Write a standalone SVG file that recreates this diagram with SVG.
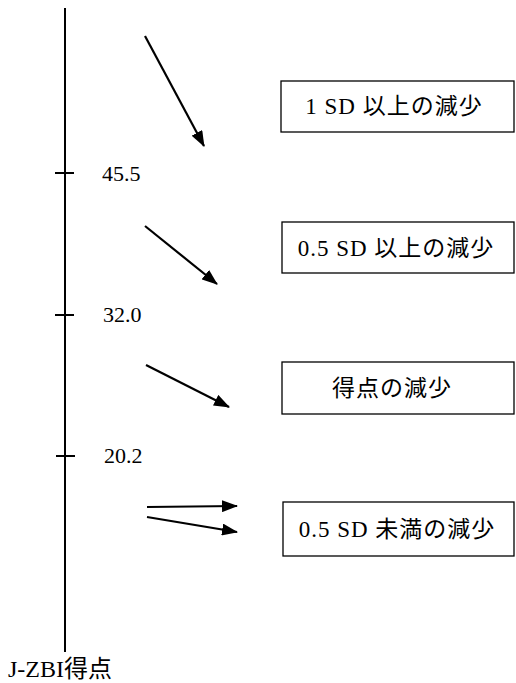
<svg xmlns="http://www.w3.org/2000/svg" width="516" height="683" viewBox="0 0 516 683">
<style>
.ax{stroke:#000;stroke-width:2;fill:none}
.con{stroke:#000;stroke-width:2.2;fill:none}
.box{fill:#fff;stroke:#000;stroke-width:1.3}
.t{font-family:'Liberation Serif','Times New Roman','DejaVu Serif','Noto Sans CJK JP',serif;font-size:23px;letter-spacing:1px;fill:#000}
.n{font-family:'Liberation Serif','Times New Roman','DejaVu Serif',serif;font-size:22px;fill:#000}
</style>
<defs>
<marker id="ahL" markerWidth="16" markerHeight="12" refX="15" refY="6" orient="auto" markerUnits="userSpaceOnUse" viewBox="0 0 16 12">
<path d="M0,0 L16,6 L0,12 Z" fill="#000"/>
</marker>
</defs>
<rect width="516" height="683" fill="#fff"/>
<g id="axis">
<line class="ax" x1="65" y1="8" x2="65" y2="652"/>
<line class="ax" x1="55" y1="173" x2="74" y2="173"/>
<line class="ax" x1="55" y1="315" x2="74" y2="315"/>
<line class="ax" x1="56" y1="456" x2="75" y2="456"/>
<text class="n" x="102" y="181">45.5</text>
<text class="n" x="103" y="322">32.0</text>
<text class="n" x="104" y="463">20.2</text>
<text class="t" x="8" y="677" style="font-size:24px;letter-spacing:0">J-ZBI得点</text>
</g>
<g id="connectors">
<line class="con" x1="145" y1="36" x2="204" y2="146" marker-end="url(#ahL)"/>
<line class="con" x1="145" y1="226" x2="217" y2="284" marker-end="url(#ahL)"/>
<line class="con" x1="146" y1="365" x2="229" y2="407" marker-end="url(#ahL)"/>
<line class="con" x1="147" y1="507" x2="237" y2="506" marker-end="url(#ahL)"/>
<line class="con" x1="147" y1="517" x2="237" y2="532" marker-end="url(#ahL)"/>
</g>
<g id="node1">
<rect class="box" x="281" y="81" width="233" height="51"/>
<text class="t" x="394" y="114" text-anchor="middle">1 SD 以上の減少</text>
</g>
<g id="node2">
<rect class="box" x="282" y="222" width="232" height="51"/>
<text class="t" x="396" y="256" text-anchor="middle">0.5 SD 以上の減少</text>
</g>
<g id="node3">
<rect class="box" x="282" y="362" width="232" height="52"/>
<text class="t" x="392" y="396" text-anchor="middle">得点の減少</text>
</g>
<g id="node4">
<rect class="box" x="283" y="502" width="231" height="54"/>
<text class="t" x="397" y="537" text-anchor="middle">0.5 SD 未満の減少</text>
</g>
</svg>
